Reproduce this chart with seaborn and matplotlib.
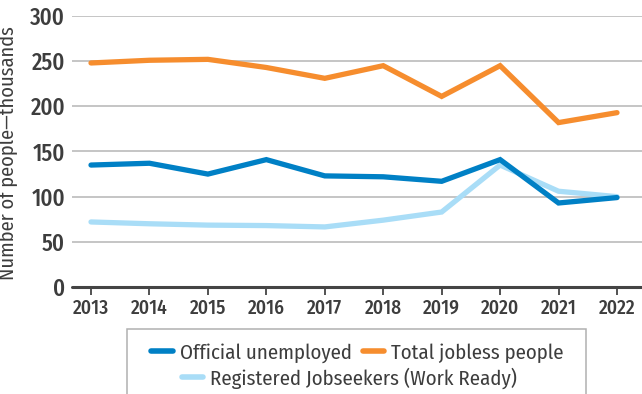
import matplotlib
matplotlib.use("Agg")
import matplotlib.pyplot as plt
from matplotlib.patches import Rectangle
from matplotlib.lines import Line2D
import pandas as pd
import seaborn as sns

years = [2013, 2014, 2015, 2016, 2017, 2018, 2019, 2020, 2021, 2022]
official_unemployed = [135, 137, 125, 141, 123, 122, 117, 141, 93, 99]
total_jobless = [248, 251, 252, 243, 231, 245, 211, 245, 182, 193]
registered_jobseekers = [72, 70, 68.5, 68, 66.5, 74, 83, 135, 106, 100]

series_names = ["Official unemployed", "Total jobless people",
                "Registered Jobseekers (Work Ready)"]
colors = {"Official unemployed": "#0080C5",
          "Total jobless people": "#F68D2E",
          "Registered Jobseekers (Work Ready)": "#A9DDF7"}

df = pd.concat([
    pd.DataFrame({"year": years, "value": official_unemployed, "series": series_names[0]}),
    pd.DataFrame({"year": years, "value": total_jobless, "series": series_names[1]}),
    pd.DataFrame({"year": years, "value": registered_jobseekers, "series": series_names[2]}),
])

sns.set_theme(style="white")
plt.rcParams["font.family"] = ["Fira Sans Condensed", "DejaVu Sans"]
text_color = "#3d3d3d"

W, H = 642, 394
fig = plt.figure(figsize=(W / 100, H / 100), dpi=100)
ax = fig.add_axes([72 / W, 1 - 287 / H, (642 - 72) / W, (287 - 16) / H])

# draw the lighter series first so the darker ones sit on top
order = [series_names[2], series_names[1], series_names[0]]
for name in order:
    sns.lineplot(data=df[df["series"] == name], x="year", y="value",
                 color=colors[name], lw=3.8, ax=ax, legend=False,
                 solid_capstyle="round", solid_joinstyle="miter")

ax.set_xlim(2013 - 19 / 58.44, 2022 + 25 / 58.44)
ax.set_ylim(0, 300)
ax.set_yticks([0, 50, 100, 150, 200, 250, 300])
ax.set_xticks(years)
ax.set_xticklabels([str(y) for y in years])

for y in [50, 100, 150, 200, 250, 300]:
    ax.axhline(y, color="#b5b5b5", lw=1.1, zorder=0)
ax.axhline(0, color="#444444", lw=2.2, clip_on=False, zorder=3)

for s in ax.spines.values():
    s.set_visible(False)

ax.tick_params(axis="y", length=0, pad=5, labelsize=16.5, labelcolor=text_color)
ax.tick_params(axis="x", length=6, width=1.3, color="#444444", pad=2,
               direction="out", labelsize=14, labelcolor=text_color)
ax.xaxis.set_ticks_position("bottom")
for lab in ax.get_yticklabels() + ax.get_xticklabels():
    lab.set_fontweight(500)

ax.set_xlabel("")
ax.set_ylabel("Number of people\u2014thousands", fontsize=14.7,
              color=text_color)
ax.yaxis.set_label_coords(-54 / 570, (287 - 153) / 271)

# legend frame and entries
fig.add_artist(Rectangle((127 / W, 1 - 400 / H), (586 - 127) / W, (400 - 329) / H,
                         transform=fig.transFigure, fill=False,
                         edgecolor="#b0b0b0", lw=1.1))

def handle(name):
    return Line2D([], [], color=colors[name], lw=4, solid_capstyle="round")

leg_kw = dict(frameon=False, fontsize=15, handlelength=1.03, handletextpad=0.33,
              labelcolor=text_color, borderpad=0, borderaxespad=0)
leg1 = fig.legend([handle(series_names[0]), handle(series_names[1])],
                  series_names[:2], ncol=2, columnspacing=0.55,
                  loc="center", bbox_to_anchor=(357.5 / W, 1 - 353 / H), **leg_kw)
leg2 = fig.legend([handle(series_names[2])], series_names[2:],
                  loc="center", bbox_to_anchor=(349.5 / W, 1 - 378 / H), **leg_kw)

fig.savefig("out.png", dpi=100)
